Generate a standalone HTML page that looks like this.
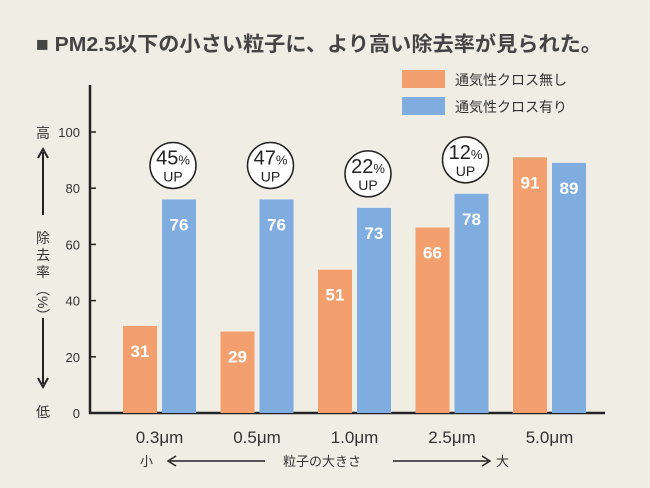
<!DOCTYPE html>
<html><head><meta charset="utf-8"><style>
html,body{margin:0;padding:0;background:#f0ede4;}
svg{display:block;font-family:"Liberation Sans","Noto Sans CJK JP",sans-serif;}
</style></head><body>
<svg id="chart" width="650" height="488" viewBox="0 0 650 488">
<rect x="0" y="0" width="650" height="488" fill="#f0ede4"/>
<text x="36" y="51" font-size="20.5" font-weight="bold" fill="#444" textLength="566" lengthAdjust="spacingAndGlyphs">■ PM2.5以下の小さい粒子に、より高い除去率が見られた。</text>
<rect x="402" y="70" width="43" height="18" fill="#f4a06e"/>
<text x="455" y="85" font-size="14" fill="#333">通気性クロス無し</text>
<rect x="402" y="97" width="43" height="18" fill="#7fade0"/>
<text x="455" y="112" font-size="14" fill="#333">通気性クロス有り</text>
<g id="axes"></g>
<g id="bars"></g>
<text x="36" y="138" font-size="14" fill="#333">高</text>
<text x="36" y="417" font-size="14" fill="#333">低</text>
<line x1="43" y1="152" x2="43" y2="215" stroke="#222" stroke-width="2"/>
<path d="M38,158 L43,149 L48,158" fill="none" stroke="#222" stroke-width="2"/>
<line x1="43" y1="318" x2="43" y2="384" stroke="#222" stroke-width="2"/>
<path d="M38,378 L43,387 L48,378" fill="none" stroke="#222" stroke-width="2"/>
<text font-size="14" fill="#333">
<tspan x="36" y="243">除</tspan><tspan x="36" y="260">去</tspan><tspan x="36" y="277">率</tspan>
</text>
<text x="43" y="282" font-size="14" fill="#333" writing-mode="tb">（%）</text>
<text x="140" y="466" font-size="13" fill="#333">小</text>
<line x1="170" y1="461" x2="265" y2="461" stroke="#222" stroke-width="1.5"/>
<path d="M176,456 L168,461 L176,466" fill="none" stroke="#222" stroke-width="1.5"/>
<text x="283" y="466" font-size="13" fill="#333">粒子の大きさ</text>
<line x1="393" y1="461" x2="488" y2="461" stroke="#222" stroke-width="1.5"/>
<path d="M482,456 L490,461 L482,466" fill="none" stroke="#222" stroke-width="1.5"/>
<text x="496" y="466" font-size="13" fill="#333">大</text>
</svg>
<script>
const categories = ["0.3", "0.5", "1.0", "2.5", "5.0"];
const withoutCloth = [31, 29, 51, 66, 91];
const withCloth = [76, 76, 73, 78, 89];
const improvement = ["45", "47", "22", "12", null];
const yTicks = [0, 20, 40, 60, 80, 100];

const NS = "http://www.w3.org/2000/svg";
const x0 = 90, y0 = 413, pxPerUnit = 2.81, groupStart = 123, groupStep = 97.5, barW = 34, gap = 5;
function yScale(v){ return y0 - v * pxPerUnit; }
function xGroup(i){ return groupStart + i * groupStep; }
function mk(tag, attrs, parent, txt){
  const e = document.createElementNS(NS, tag);
  for (const k in attrs) e.setAttribute(k, attrs[k]);
  if (txt !== undefined) e.textContent = txt;
  parent.appendChild(e); return e;
}
const axes = document.getElementById("axes");
const bars = document.getElementById("bars");
let yl = mk("line", {x1:x0, y1:85, x2:x0, y2:y0+1, stroke:"#222", "stroke-width":2.5}, axes);


let xl = mk("line", {x1:x0-1, y1:y0, x2:605, y2:y0, stroke:"#222", "stroke-width":2.5}, axes);


yTicks.forEach(t => {
  const y = yScale(t);
  let tk = mk("line", {x1:x0, y1:y, x2:x0+6, y2:y, stroke:"#222", "stroke-width":1.5}, axes);
  
  
  let lb = mk("text", {x:x0-10, y:y+5, "text-anchor":"end", "font-size":13, fill:"#333"}, axes, String(t));
  
  
});
categories.forEach((c, i) => {
  const gx = xGroup(i);
  const bx = gx + barW + gap;
  const oy = yScale(withoutCloth[i]), by = yScale(withCloth[i]);
  let ob = mk("rect", {x:gx, y:oy, width:barW, height:y0-oy, fill:"#f4a06e"}, bars);
  
  
  let bb = mk("rect", {x:bx, y:by, width:barW, height:y0-by, fill:"#7fade0"}, bars);
  
  
  let ot = mk("text", {x:gx+barW/2, y:oy+31, "text-anchor":"middle", "font-size":17, "font-weight":"bold", fill:"#fff"}, bars, String(withoutCloth[i]));
  
  
  let bt = mk("text", {x:bx+barW/2, y:by+31, "text-anchor":"middle", "font-size":17, "font-weight":"bold", fill:"#fff"}, bars, String(withCloth[i]));
  
  
  let xt = mk("text", {x:gx+barW+gap/2, y:443, "text-anchor":"middle", "font-size":17, fill:"#333"}, bars, c + "μm");
  
  
  if (improvement[i]) {
    const cx = bx + barW/2 - 6, cy = by - 34;
    const g = mk("g", {}, bars);
    
    
    mk("circle", {cx:cx, cy:cy, r:23, fill:"#fff", stroke:"#222", "stroke-width":1.5}, g);
    const t1 = mk("text", {x:cx, y:cy-1, "text-anchor":"middle", fill:"#222"}, g);
    mk("tspan", {"font-size":20}, t1, improvement[i]);
    mk("tspan", {"font-size":13}, t1, "%");
    mk("text", {x:cx, y:cy+16, "text-anchor":"middle", "font-size":14, fill:"#222"}, g, "UP");
  }
});
</script>
</body></html>
